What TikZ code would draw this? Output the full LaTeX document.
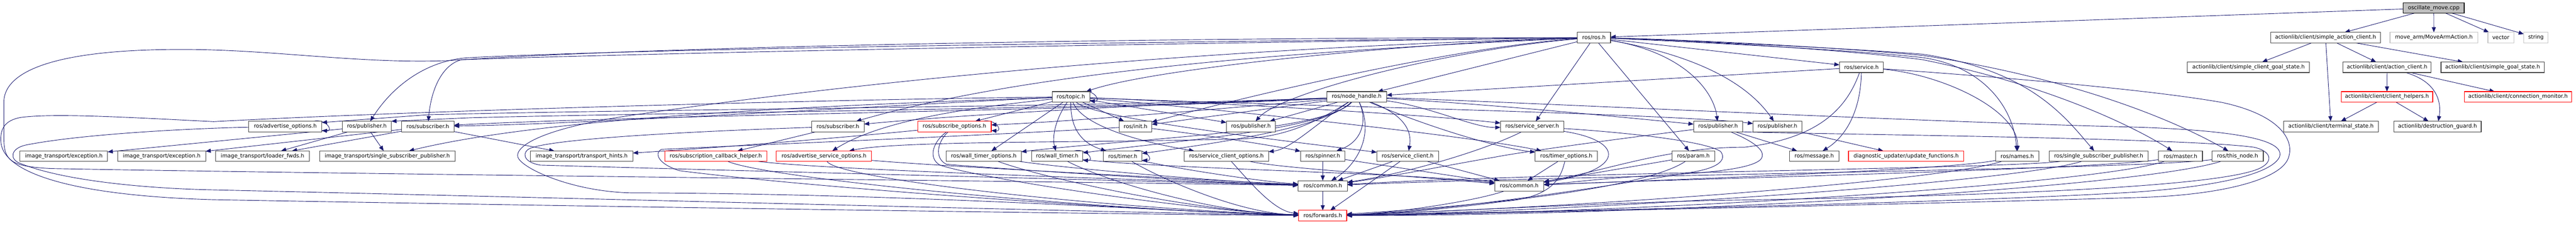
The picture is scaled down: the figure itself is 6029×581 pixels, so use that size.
\documentclass[tikz,border=0pt]{standalone}
\usepackage{fontspec}
\newfontfamily\dvsans{DejaVu Sans}
\usetikzlibrary{arrows.meta,calc}
\pgfdeclarelayer{edgelayer}
\pgfsetlayers{edgelayer,main}
\definecolor{edgec}{HTML}{191970}
\definecolor{boxc}{HTML}{404040}
\definecolor{rootfill}{HTML}{BFBFBF}
\definecolor{extc}{HTML}{C4C4C4}
\definecolor{truncc}{HTML}{FF0000}
\tikzset{
 nbox/.style={draw=boxc, line width=1.3pt, fill=white, minimum height=24.7pt, inner sep=0pt, outer sep=0pt, font=\dvsans\fontsize{12.6}{15}\selectfont, text=black},
 ntrunc/.style={nbox, draw=truncc},
 nex/.style={nbox, draw=extc},
 nroot/.style={nbox, draw=black, fill=rootfill},
 edg/.style={draw=edgec, line width=1.1pt, -{Triangle[length=12pt,width=9.5pt]}},
}
\begin{document}
\begin{tikzpicture}[x=1pt,y=-1pt]
\useasboundingbox (0,0) rectangle (6029,581);
% row 0
\node[nroot, minimum width=142.6pt] (osc) at (5696,18.5) {oscillate\_move.cpp};
% row 1
\node[nbox, minimum width=77.6pt] (rosh) at (3730.5,88) {ros/ros.h};
\node[nbox, minimum width=256.7pt] (sac) at (5442.7,88) {actionlib/client/simple\_action\_client.h};
\node[nex, minimum width=205.3pt] (mam) at (5696.3,88) {move\_arm/MoveArmAction.h};
\node[nex, minimum width=60.6pt] (vec) at (5853,88) {vector};
\node[nex, minimum width=57pt] (str) at (5935.2,88) {string};
% row 2
\node[nbox, minimum width=103pt] (srv) at (4356.5,157.7) {ros/service.h};
\node[nbox, minimum width=285.6pt] (scgs) at (5262.5,157.7) {actionlib/client/simple\_client\_goal\_state.h};
\node[nbox, minimum width=206pt] (ac) at (5586.7,157.7) {actionlib/client/action\_client.h};
\node[nbox, minimum width=241.3pt] (sgs) at (5833.7,157.7) {actionlib/client/simple\_goal\_state.h};
% row 3
\node[nbox, minimum width=88pt] (topic) at (2506.3,227) {ros/topic.h};
\node[nbox, minimum width=140.3pt] (nh) at (3175.2,227) {ros/node\_handle.h};
\node[ntrunc, minimum width=214.4pt] (ch) at (5586.5,227) {actionlib/client/client\_helpers.h};
\node[ntrunc, minimum width=251.7pt] (cm) at (5893.2,227) {actionlib/client/connection\_monitor.h};
% row 4
\node[nbox, minimum width=171pt] (advo) at (667.8,296.5) {ros/advertise\_options.h};
\node[nbox, minimum width=115pt] (pub1) at (858.5,296.5) {ros/publisher.h};
\node[nbox, minimum width=122.7pt] (sub1) at (1001.3,296.5) {ros/subscriber.h};
\node[nbox, minimum width=122.6pt] (sub2) at (1961,296.5) {ros/subscriber.h};
\node[ntrunc, minimum width=172.3pt] (subo) at (2233.8,296.5) {ros/subscribe\_options.h};
\node[nbox, minimum width=76pt] (init) at (2657.7,296.5) {ros/init.h};
\node[nbox, minimum width=114.7pt] (pub3) at (2927.7,296.5) {ros/publisher.h};
\node[nbox, minimum width=148.3pt] (ssrv) at (3585.8,296.5) {ros/service\_server.h};
\node[nbox, minimum width=114.6pt] (pub4) at (4021,296.5) {ros/publisher.h};
\node[nbox, minimum width=114.6pt] (pub5) at (4160,296.5) {ros/publisher.h};
\node[nbox, minimum width=221pt] (ts) at (5455.5,296.5) {actionlib/client/terminal\_state.h};
\node[nbox, minimum width=204.7pt] (dg) at (5704.7,296.5) {actionlib/destruction\_guard.h};
% row 5
\node[nbox, minimum width=205.3pt] (excA) at (149.3,366) {image\_transport/exception.h};
\node[nbox, minimum width=205.6pt] (excB) at (378.5,366) {image\_transport/exception.h};
\node[nbox, minimum width=219pt] (ldr) at (614.5,366) {image\_transport/loader\_fwds.h};
\node[nbox, minimum width=317.6pt] (ssp1) at (906.5,366) {image\_transport/single\_subscriber\_publisher.h};
\node[nbox, minimum width=240.3pt] (th) at (1361.2,366) {image\_transport/transport\_hints.h};
\node[ntrunc, minimum width=239pt] (sch) at (1675.2,366) {ros/subscription\_callback\_helper.h};
\node[ntrunc, minimum width=223pt] (aso) at (1928.5,366) {ros/advertise\_service\_options.h};
\node[nbox, minimum width=176pt] (wto) at (2302.3,366) {ros/wall\_timer\_options.h};
\node[nbox, minimum width=120pt] (wt) at (2474.3,366) {ros/wall\_timer.h};
\node[nbox, minimum width=90.7pt] (timer) at (2627.7,366) {ros/timer.h};
\node[nbox, minimum width=197pt] (sco) at (2870.5,366) {ros/service\_client\_options.h};
\node[nbox, minimum width=104.3pt] (spin) at (3095.8,366) {ros/spinner.h};
\node[nbox, minimum width=144.4pt] (sc) at (3294.5,366) {ros/service\_client.h};
\node[nbox, minimum width=145.7pt] (to) at (3665.8,366) {ros/timer\_options.h};
\node[nbox, minimum width=100pt] (param) at (3963.3,366) {ros/param.h};
\node[nbox, minimum width=116pt] (msg) at (4246,366) {ros/message.h};
\node[ntrunc, minimum width=269.7pt] (duf) at (4461.2,366) {diagnostic\_updater/update\_functions.h};
\node[nbox, minimum width=101.7pt] (names) at (4721.2,366) {ros/names.h};
\node[nbox, minimum width=232.3pt] (ssp2) at (4911.8,366) {ros/single\_subscriber\_publisher.h};
\node[nbox, minimum width=103pt] (master) at (5103.2,366) {ros/master.h};
\node[nbox, minimum width=120pt] (thisnode) at (5237,366) {ros/this\_node.h};
% row 6, 7
\node[nbox, minimum width=115pt] (comA) at (3095.8,435.7) {ros/common.h};
\node[nbox, minimum width=115.3pt] (comB) at (3555.7,435.7) {ros/common.h};
\node[ntrunc, minimum width=112.3pt] (fwd) at (3095.8,505.3) {ros/forwards.h};

\begin{pgfonlayer}{edgelayer}
% actionlib part
\draw[edg] (osc) -- (rosh);
\draw[edg] (osc) -- (sac);
\draw[edg] (osc) -- (mam);
\draw[edg] (osc) -- (vec);
\draw[edg] (osc) -- (str);
\draw[edg] (sac) -- (scgs);
\draw[edg] (sac) -- (ts);
\draw[edg] (sac) -- (ac);
\draw[edg] (sac) -- (sgs);
\draw[edg] (ac) -- (ch);
\draw[edg] (ac) .. controls (5700,190) and (5715,235) .. (dg);
\draw[edg] (ac) -- (cm);
\draw[edg] (ch) -- (ts);
\draw[edg] (ch) -- (dg);
% ros.h to the right
\draw[edg] (rosh) -- (srv);
\draw[edg] (rosh) -- (param);
\draw[edg] (rosh) -- (ssrv);
\draw[edg] (rosh) -- (nh);
\draw[edg] (srv) -- (nh);
\draw[edg] (rosh) .. controls (3950,125) and (4012,220) .. (pub4);
\draw[edg] (rosh) .. controls (4000,135) and (4100,210) .. (pub5);
\draw[edg] (rosh) .. controls (4000,100) and (4350,118) .. (4500,135) .. controls (4640,155) and (4712,250) .. (names);
\draw[edg] (srv) .. controls (4550,175) and (4725,260) .. (names);
\draw[edg] (rosh) .. controls (4000,97) and (4350,115) .. (4500,127) .. controls (4750,165) and (4830,270) .. (ssp2);
\draw[edg] (rosh) .. controls (4000,96) and (4350,120) .. (4500,140) .. controls (4800,200) and (5000,300) .. (master);
\draw[edg] (rosh) .. controls (4000,94) and (4350,115) .. (4500,130) .. controls (4800,175) and (5050,260) .. (thisnode);
% service.h
\draw[edg] (srv) .. controls (4355,260) and (4320,320) .. (msg);
\draw[edg] (srv) .. controls (4320,260) and (4250,325) .. (4083,345) .. controls (3900,345) and (3760,400) .. (comB);
\draw[edg] (srv) .. controls (4600,175) and (5000,205) .. (5200,240) .. controls (5340,270) and (5368,330) .. (5357,366) .. controls (5345,420) and (5200,458) .. (5000,463) .. controls (4500,478) and (3500,500) .. (fwd);
% node_handle loop to the right
\draw[edg] (nh) .. controls (3500,237) and (4500,286) .. (5000,298) .. controls (5300,308) and (5345,340) .. (5335,368) .. controls (5322,395) and (5250,432) .. (5000,450) .. controls (4500,480) and (3500,497) .. (fwd);
% publisher (4)
\draw[edg] (pub4.south east) .. controls (4200,314) and (5100,322) .. (5275,345) .. controls (5320,355) and (5322,383) .. (5280,398) .. controls (5150,445) and (4500,462) .. (4000,470) .. controls (3700,478) and (3400,495) .. (fwd);
\draw[edg] (pub4) .. controls (4100,330) and (4135,352) .. (4122,372) .. controls (4105,395) and (4000,405) .. (3900,410) .. controls (3760,416) and (3680,428) .. (comB);
\draw[edg] (pub4) .. controls (3750,330) and (3550,358) .. (3500,368) .. controls (3400,385) and (3250,415) .. (comA);
\draw[edg] (pub4) -- (msg);
\draw[edg] (pub5) -- (duf);
% service_server
\draw[edg] (ssrv) .. controls (3805,330) and (3805,400) .. (comB);
\draw[edg] (ssrv) .. controls (3800,310) and (3990,330) .. (4027,355) .. controls (4042,375) and (4022,395) .. (3950,405) .. controls (3800,430) and (3400,495) .. (fwd);
\draw[edg] (ssrv) .. controls (3480,350) and (3300,405) .. (comA);
% timer_options, param
\draw[edg] (to) -- (comB);
\draw[edg] (to) .. controls (3655,405) and (3645,462) .. (3520,472) .. controls (3400,488) and (3250,502) .. (fwd);
\draw[edg] (param) -- (comB);
\draw[edg] (param) .. controls (3850,440) and (3500,480) .. (fwd);
% names, ssp, master, this_node
\draw[edg] (names) .. controls (4550,400) and (3800,425) .. (comB);
\draw[edg] (names) .. controls (4560,420) and (3800,482) .. (fwd);
\draw[edg] (ssp2) .. controls (4700,395) and (3600,405) .. (comA);
\draw[edg] (ssp2) .. controls (4720,425) and (3800,492) .. (fwd);
\draw[edg] (master) .. controls (4900,398) and (3900,420) .. (comB);
\draw[edg] (master) .. controls (4900,432) and (3850,500) .. (fwd);
\draw[edg] (thisnode) .. controls (5000,398) and (3700,410) .. (comA);
\draw[edg] (thisnode) .. controls (5000,440) and (3900,505) .. (fwd);
% common / forwards
\draw[edg] (comB) .. controls (3450,472) and (3260,500) .. (fwd);
\draw[edg] (comA) -- (fwd);
\draw[edg] (spin) -- (comA);
\draw[edg] (spin) -- (comB);
\draw[edg] (sc) -- (comA);
\draw[edg] (sc) -- (fwd);
\draw[edg] (sc) -- (comB);
% node_handle downwards
\draw[edg] (nh) .. controls (3220,320) and (3170,390) .. (comA);
\draw[edg] (nh) .. controls (3200,280) and (3190,330) .. (spin);
\draw[edg] (nh) .. controls (3290,270) and (3305,310) .. (sc);
\draw[edg] (nh) -- (pub3);
\draw[edg] (nh) -- (init);
\draw[edg] (nh) .. controls (3080,290) and (3020,350) .. (sco);
\draw[edg] (nh) .. controls (3100,300) and (2850,335) .. (timer);
\draw[edg] (nh) .. controls (3100,305) and (2750,330) .. (wt);
\draw[edg] (nh) .. controls (3100,310) and (2650,325) .. (wto);
\draw[edg] (nh) .. controls (3060,300) and (2990,322) .. (2900,326) .. controls (2500,335) and (2100,330) .. (aso);
\draw[edg] (nh) .. controls (2800,260) and (2500,285) .. (subo);
\draw[edg] (nh) .. controls (2700,245) and (2300,265) .. (sub2);
\draw[edg] (nh) .. controls (2600,258) and (1500,270) .. (sub1);
\draw[edg] (nh) .. controls (2600,255) and (1500,265) .. (1100,276) -- (pub1.north east);
\draw[edg] (nh) .. controls (2600,250) and (1500,256) .. (1000,269) -- ($(advo.north east)+(0,3)$);
\draw[edg] (nh) .. controls (3350,300) and (3500,345) .. (to);
\draw[edg] (nh) .. controls (3350,250) and (3450,300) .. (ssrv);
\draw[edg] (nh) .. controls (3500,245) and (3800,275) .. (pub4);
% ros.h to the left
\draw[edg] (rosh) .. controls (3300,100) and (2700,160) .. (topic);
\draw[edg] (rosh) .. controls (3400,110) and (2900,230) .. (init);
\draw[edg] (rosh) .. controls (3400,115) and (3000,215) .. (pub3);
\draw[edg] (rosh) .. controls (3000,120) and (2400,170) .. (sub2);
\draw[edg] (rosh) .. controls (2500,100) and (1500,115) .. (1100,135) .. controls (1000,140) and (920,200) .. (pub1);
\draw[edg] (rosh) .. controls (2500,105) and (1500,125) .. (1080,140) .. controls (1040,150) and (1010,200) .. (sub1);
\draw[edg] (rosh) .. controls (2800,88) and (1600,105) .. (1050,142) .. controls (850,150) and (650,118) .. (450,116) .. controls (150,113) and (9,160) .. (9,240) -- (9,320) .. controls (9,375) and (20,390) .. (120,395) .. controls (800,408) and (2700,428) .. (comA);
\draw[edg] (rosh) .. controls (3000,108) and (2200,165) .. (1500,267) .. controls (1260,300) and (1205,345) .. (1212,368) .. controls (1220,395) and (1350,455) .. (1500,452) .. controls (2200,455) and (2800,500) .. (fwd);
% topic.h
\draw[edg] (topic) -- (init);
\draw[edg] (topic) -- (pub3);
\draw[edg] (topic) -- (wto);
\draw[edg] (topic) -- (subo);
\draw[edg] (topic) .. controls (2470,280) and (2462,320) .. (wt);
\draw[edg] (topic) .. controls (2505,300) and (2530,335) .. (timer);
\draw[edg] (topic) .. controls (2530,290) and (2650,330) .. (sco);
\draw[edg] (topic) .. controls (2560,280) and (3050,335) .. (sc);
\draw[edg] (topic) .. controls (2800,240) and (3300,265) .. (ssrv);
\draw[edg] (topic) .. controls (2900,245) and (3900,265) .. (pub5);
\draw[edg] (topic) .. controls (2900,260) and (3450,320) .. (to);
\draw[edg] (topic) .. controls (2350,245) and (2080,270) .. (aso);
\draw[edg] (topic) .. controls (2200,240) and (1400,290) .. (sub1);
\draw[edg] (topic) .. controls (2000,245) and (1300,270) .. (ssp1);
\draw[edg] (topic) .. controls (2000,232) and (1000,258) .. (500,285) .. controls (300,275) and (130,265) .. (50,275) .. controls (8,282) and (1,305) .. (2,330) .. controls (3,400) and (150,458) .. (500,468) .. controls (1500,486) and (2700,503) .. (fwd);
% init.h
\draw[edg] (init) .. controls (2850,320) and (3000,345) .. (spin);
\draw[edg] (init) .. controls (2300,318) and (1800,338) .. (1548,350) .. controls (1533,357) and (1535,382) .. (1590,400) .. controls (1900,440) and (2700,497) .. (fwd);
% subscribe_options, subscriber, publisher, advertise_options
\draw[edg] (subo) .. controls (2000,320) and (1700,345) .. (th);
\draw[edg] (subo) .. controls (2195,330) and (2185,370) .. (2215,385) .. controls (2400,400) and (2850,428) .. (comA);
\draw[edg] (subo) .. controls (2185,330) and (2170,370) .. (2200,387) .. controls (2300,420) and (2800,495) .. (fwd);
\draw[edg] (sub2) -- (sch);
\draw[edg] (sub2) .. controls (1700,305) and (1300,322) .. (1240,348) .. controls (1222,356) and (1222,380) .. (1265,387) .. controls (1800,402) and (2700,425) .. (comA);
\draw[edg] (sub1) -- (excB);
\draw[edg] (sub1) -- (ldr);
\draw[edg] (sub1) -- (th);
\draw[edg] (pub1) -- (excA);
\draw[edg] (pub1) -- (ldr);
\draw[edg] (pub1) -- (ssp1);
\draw[edg] (advo) .. controls (480,300) and (200,312) .. (60,340) .. controls (25,348) and (22,372) .. (45,382) .. controls (150,425) and (350,442) .. (500,445) .. controls (1500,468) and (2700,500) .. (fwd);
% row 5 to common / forwards
\draw[edg] (sch) .. controls (1950,400) and (2800,425) .. (comA);
\draw[edg] (sch) .. controls (1800,420) and (2600,495) .. (fwd);
\draw[edg] (aso) .. controls (2200,390) and (2800,420) .. (comA);
\draw[edg] (aso) .. controls (1960,420) and (2600,490) .. (fwd);
\draw[edg] (wto) .. controls (2500,395) and (2850,425) .. (comA);
\draw[edg] (wto) .. controls (2450,420) and (2800,495) .. (fwd);
\draw[edg] (wt) .. controls (2700,395) and (3300,405) .. (comB);
\draw[edg] (wt) .. controls (2600,430) and (2850,500) .. (fwd);
\draw[edg] (timer) .. controls (2750,395) and (2950,425) .. (comA);
\draw[edg] (timer) .. controls (2720,420) and (2900,500) .. (fwd);
\draw[edg] (sco) .. controls (3000,395) and (3300,412) .. (comB);
\draw[edg] (sco) .. controls (2920,420) and (2980,495) .. (fwd);
% self loops
\draw[edg] ($(advo.north east)+(-20,0)$) .. controls +(30,-7) and +(28,2) .. ($(advo.south east)+(0,-3)$);
\draw[edg] ($(subo.north east)+(-20,0)$) .. controls +(30,-7) and +(28,2) .. ($(subo.south east)+(0,-3)$);
\draw[edg] ($(topic.north east)+(-20,0)$) .. controls +(30,-7) and +(28,2) .. ($(topic.south east)+(0,-3)$);
\draw[edg] ($(wt.north east)+(-20,0)$) .. controls +(30,-7) and +(28,2) .. ($(wt.south east)+(0,-3)$);
\draw[edg] ($(timer.north east)+(-20,0)$) .. controls +(30,-7) and +(28,2) .. ($(timer.south east)+(0,-3)$);
\end{pgfonlayer}
\end{tikzpicture}
\end{document}
